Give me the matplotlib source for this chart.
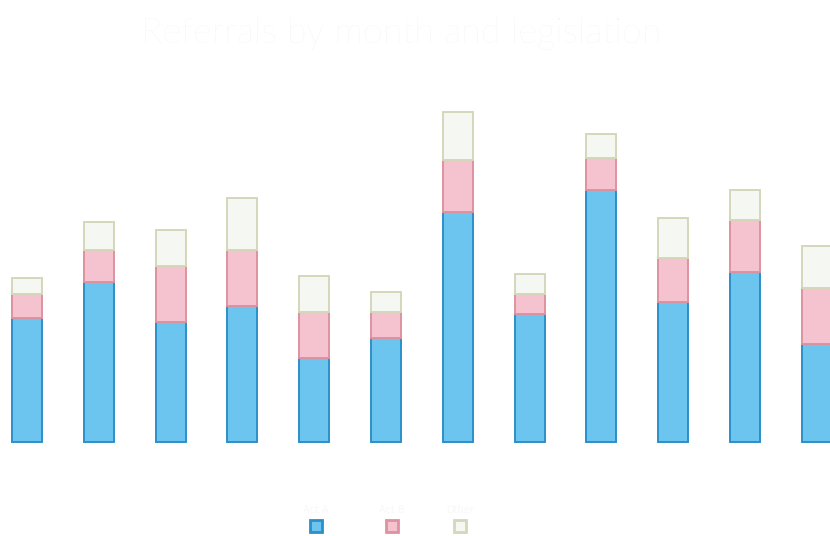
import matplotlib
matplotlib.use("Agg")
import matplotlib.pyplot as plt
from matplotlib.lines import Line2D
import numpy as np

# Monthly referral counts, stacked by legislation
months = ["Jan", "Feb", "Mar", "Apr", "May", "Jun",
          "Jul", "Aug", "Sep", "Oct", "Nov", "Dec"]
series_names = ["Act A", "Act B", "Other"]
act_a = [62, 80, 60, 68, 42, 52, 115, 64, 126, 70, 85, 49]
act_b = [12, 16, 28, 28, 23, 13, 26, 10, 16, 22, 26, 28]
other = [8, 14, 18, 26, 18, 10, 24, 10, 12, 20, 15, 21]

fills = ["#6cc5ee", "#f5c3d0", "#f4f7f2"]
edges = ["#2d8fc8", "#de929f", "#d5d7ba"]

W, H = 830, 536
fig = plt.figure(figsize=(W / 100, H / 100), dpi=100)
fig.patch.set_facecolor("white")
ax = fig.add_axes([0, 0, 1, 1])
ax.set_axis_off()

x = np.arange(len(months))
bottom = np.zeros(len(months))
for vals, fc, ec in zip([act_a, act_b, other], fills, edges):
    vals = np.asarray(vals, dtype=float)
    ax.bar(x, vals, width=0.418, bottom=bottom, color=fc,
           edgecolor=ec, linewidth=1.4, zorder=2)
    bottom += vals

ax.set_xlim(-0.376, 11.184)
ax.set_ylim(-47, 221)

fig.text(0.483, 1 - 33 / H, "Referrals by month and legislation",
         ha="center", va="center", fontsize=26, color="#f3f3f3",
         family="Lato", fontweight="light")

# legend: square swatches with faint labels above
leg_x = [316, 392, 460]
for px, name, fc, ec in zip(leg_x, series_names, fills, edges):
    fig.add_artist(Line2D([px / W], [1 - 526 / H], transform=fig.transFigure,
                          marker="s", markersize=8, markerfacecolor=fc,
                          markeredgecolor=ec, markeredgewidth=2,
                          linestyle="none"))
    fig.text(px / W, 1 - 510 / H, name, ha="center", va="center",
             fontsize=7, color="#f8f8f8")

fig.savefig("out.png", dpi=100)
